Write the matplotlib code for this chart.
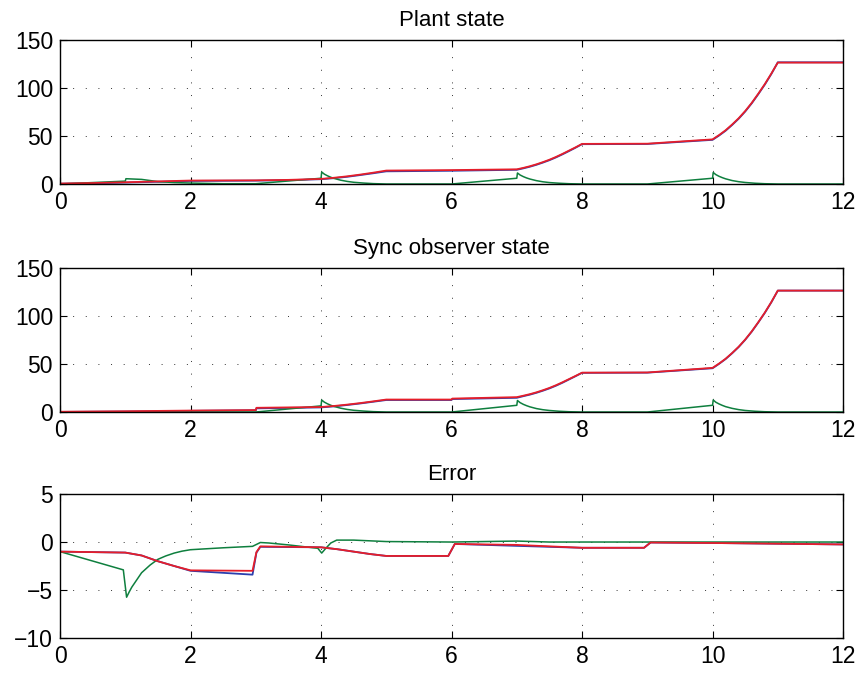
import matplotlib
matplotlib.use('Agg')
import matplotlib.pyplot as plt

plt.rcParams['font.family'] = ['Liberation Sans', 'DejaVu Sans']

blue_c = '#2b3fae'
green_c = '#0e7f3e'
red_c = '#e61e2a'

# ---- Plant state
plant_t_red = [0, 0.5, 1, 1.5, 2, 3, 3.5, 4, 4.2, 4.4, 4.6, 4.8, 5, 6, 7,
               7.1, 7.2, 7.3, 7.4, 7.5, 7.6, 7.7, 7.8, 7.9, 8, 9, 10,
               10.1, 10.2, 10.3, 10.4, 10.5, 10.6, 10.7, 10.8, 10.9, 11, 12]
plant_red = [0.5, 1, 1.8, 2.7, 3.6, 3.8, 4.3, 5.3, 6.5, 8, 9.8, 11.8, 14, 14.5, 15.3,
             16.8, 18.5, 20.5, 22.8, 25.3, 28.2, 31.4, 34.8, 38.2, 41.8, 42, 46.5,
             51, 56, 62, 68.5, 76, 84.5, 94, 104, 115, 126.5, 126.5]
plant_blue = [0.3, 0.8, 1.5, 2.3, 3.2, 3.5, 4.0, 5.0, 6.1, 7.5, 9.3, 11.2, 13.2, 13.8, 14.8,
              16.3, 18.0, 20.0, 22.3, 24.8, 27.7, 30.9, 34.3, 37.8, 41.5, 41.7, 46,
              50.5, 55.5, 61.5, 68, 75.5, 84, 93.5, 103.5, 114.5, 126.8, 126.8]
plant_t_green = [0, 1, 1.01, 1.25, 1.5, 1.75, 2, 2.5, 3, 4, 4.01, 4.05, 4.1, 4.15, 4.2, 4.3, 4.4,
                 4.5, 4.65, 4.8, 5, 6, 7, 7.01, 7.05, 7.1, 7.15, 7.2, 7.3, 7.4, 7.5, 7.65, 7.8,
                 8, 9, 10, 10.01, 10.05, 10.1, 10.15, 10.2, 10.3, 10.4, 10.5, 10.65, 10.8, 11, 12]
plant_green = [0, 3, 5.5, 4.8, 2.5, 1.5, 1.0, 0.3, 0.3, 6, 12.5, 10.3, 8.5, 7, 5.8, 4, 2.7,
               1.8, 1, 0.4, 0, 0, 6, 11.5, 9.4, 7.7, 6.3, 5.2, 3.5, 2.3, 1.5, 0.8, 0.3,
               0, 0, 6, 12, 9.8, 8, 6.6, 5.4, 3.6, 2.4, 1.6, 0.8, 0.3, 0, 0]

# ---- Sync observer state
sync_t_red = [0, 1, 2, 3, 3.01, 4, 4.2, 4.4, 4.6, 4.8, 5, 6, 6.01, 7,
              7.1, 7.2, 7.3, 7.4, 7.5, 7.6, 7.7, 7.8, 7.9, 8, 9, 10,
              10.1, 10.2, 10.3, 10.4, 10.5, 10.6, 10.7, 10.8, 10.9, 11, 12]
sync_red = [0.3, 0.8, 1.5, 2, 4.4, 5.2, 6.3, 7.7, 9.3, 11.1, 13, 13, 14, 15.5,
            17, 18.6, 20.5, 22.7, 25.1, 27.9, 31, 34.3, 37.6, 41, 41.2, 46,
            50.5, 55.5, 61.5, 68, 75.5, 84, 93.5, 103.5, 114.5, 126.5, 126.5]
sync_blue = [0.1, 0.5, 1.2, 1.8, 3.8, 4.8, 5.9, 7.3, 8.9, 10.7, 12.5, 12.5, 13.5, 14.8,
             16.5, 18.1, 20, 22.2, 24.6, 27.4, 30.5, 33.9, 37.3, 40.8, 41, 45.6,
             50.2, 55.2, 61.2, 67.7, 75.2, 83.7, 93.2, 103.2, 114.2, 126.5, 126.5]
sync_t_green = [0, 3, 4, 4.01, 4.05, 4.1, 4.15, 4.2, 4.3, 4.4, 4.5, 4.65, 4.8, 5, 6,
                7, 7.01, 7.05, 7.1, 7.15, 7.2, 7.3, 7.4, 7.5, 7.65, 7.8, 8, 9,
                10, 10.01, 10.05, 10.1, 10.15, 10.2, 10.3, 10.4, 10.5, 10.65, 10.8, 11, 12]
sync_green = [0, 0, 6.4, 12.5, 10.3, 8.5, 7, 5.8, 4, 2.7, 1.8, 1, 0.4, 0, 0,
              7, 12, 9.8, 8, 6.6, 5.4, 3.6, 2.4, 1.6, 0.8, 0.3, 0, 0,
              7, 12.5, 10.2, 8.4, 6.9, 5.6, 3.8, 2.5, 1.6, 0.8, 0.3, 0, 0]

# ---- Error
err_t_red = [0, 1, 1.25, 1.5, 1.75, 2, 2.95, 3.01, 3.07, 4, 4.25, 4.5, 4.75, 5, 5.95, 6.05, 7,
             8, 8.95, 9.05, 10, 12]
err_red = [-1, -1.1, -1.4, -2.0, -2.5, -2.95, -3, -1.05, -0.45, -0.55, -0.75, -1.0, -1.25, -1.45,
           -1.45, -0.2, -0.3, -0.6, -0.6, -0.05, -0.1, -0.25]
err_blue = [-1, -1.1, -1.4, -2.0, -2.5, -3.0, -3.4, -1.1, -0.5, -0.55, -0.75, -1.0, -1.25, -1.45,
            -1.45, -0.2, -0.4, -0.6, -0.6, -0.05, -0.1, -0.25]
err_t_green = [0, 0.97, 1.02, 1.06, 1.1, 1.18, 1.25, 1.38, 1.5, 1.62, 1.75, 1.87, 2, 2.5, 2.95,
               3.07, 3.2, 3.5, 3.95, 4.01, 4.08, 4.15, 4.24, 4.5, 5, 6, 6.5, 7, 7.5, 12]
err_green = [-1, -2.9, -5.75, -5.2, -4.7, -3.9, -3.2, -2.4, -1.8, -1.45, -1.15, -0.95, -0.8,
             -0.6, -0.45, -0.05, -0.1, -0.3, -0.65, -1.15, -0.6, -0.1, 0.2, 0.2, 0.05, 0, 0.05,
             0.1, 0, 0]

x_ticks = [0, 2, 4, 6, 8, 10, 12]
state_ticks = [0, 50, 100, 150]
err_ticks = [-10, -5, 0, 5]

panels = [
    ('Plant state', plant_t_red, plant_blue, plant_red, plant_t_green, plant_green, state_ticks),
    ('Sync observer state', sync_t_red, sync_blue, sync_red, sync_t_green, sync_green, state_ticks),
    ('Error', err_t_red, err_blue, err_red, err_t_green, err_green, err_ticks),
]

fig = plt.figure(figsize=(8.6, 6.74), dpi=100)
bottoms = [0.727, 0.3887, 0.0534]

for (title, t_rb, yb, yr, t_g, yg, yt), b in zip(panels, bottoms):
    ax = fig.add_axes([0.0698, b, 0.9105, 0.2136])
    ax.plot(t_rb, yb, color=blue_c, lw=1.3)
    ax.plot(t_g, yg, color=green_c, lw=1.1)
    ax.plot(t_rb, yr, color=red_c, lw=1.3)
    ax.set_xlim(0, 12)
    ax.set_ylim(yt[0], yt[-1])
    ax.set_xticks(x_ticks)
    ax.set_yticks(yt)
    ax.grid(True, color='0.2', linestyle=(0, (1, 12)), linewidth=0.7)
    ax.tick_params(direction='in', top=True, right=True, length=5, width=0.8,
                   labelsize=16.5, pad=5)
    for s in ax.spines.values():
        s.set_linewidth(1.0)
    ax.set_title(title, fontsize=16, pad=10)

fig.savefig('out.png', dpi=100)
